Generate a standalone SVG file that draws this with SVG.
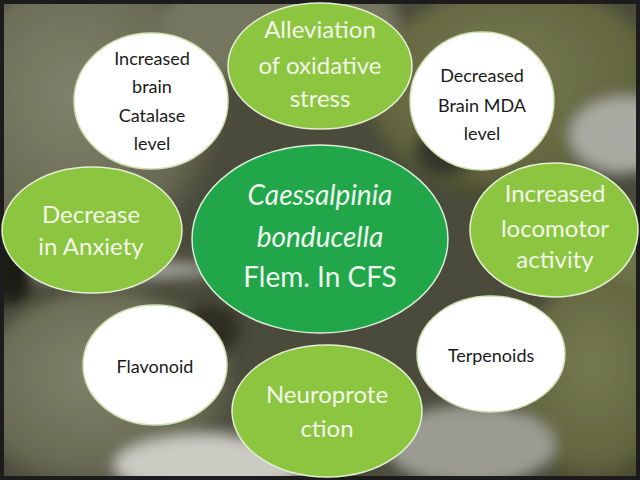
<svg xmlns="http://www.w3.org/2000/svg" width="640" height="480" viewBox="0 0 640 480">
<defs>
<style>
.lg{fill:#8cc540;stroke:#e4efd2;stroke-width:1.5}
.dg{fill:#21a64a;stroke:#d9efd9;stroke-width:1.5}
.wh{fill:#ffffff;stroke:#cfe0b0;stroke-width:1.5}
.tg{font-family:Lato,"Liberation Sans",sans-serif;font-size:24px;fill:#f2f7e8;text-anchor:middle}
.tc{font-family:Lato,"Liberation Sans",sans-serif;font-size:28px;fill:#eef8ee;text-anchor:middle}
.tw{font-family:Lato,"Liberation Sans",sans-serif;font-size:18px;fill:#1a1a1a;text-anchor:middle}
</style>
<filter id="blur" x="-30%" y="-30%" width="160%" height="160%"><feGaussianBlur stdDeviation="7"/></filter>
<radialGradient id="seed" cx="45%" cy="40%" r="60%"><stop offset="0" stop-color="#80826a"/><stop offset="0.75" stop-color="#686a52"/><stop offset="1" stop-color="#45463a"/></radialGradient>
<radialGradient id="seed2" cx="45%" cy="40%" r="60%"><stop offset="0" stop-color="#767a52"/><stop offset="0.75" stop-color="#62653e"/><stop offset="1" stop-color="#42442d"/></radialGradient>
</defs>
<g id="background">
<rect x="0" y="0" width="640" height="480" fill="#4a4b3b"/>
<g filter="url(#blur)">
<ellipse cx="85" cy="125" rx="135" ry="150" fill="url(#seed)"/>
<ellipse cx="280" cy="25" rx="120" ry="60" fill="#74765e"/>
<ellipse cx="520" cy="95" rx="150" ry="110" fill="url(#seed2)"/>
<ellipse cx="625" cy="135" rx="55" ry="38" fill="#a9aaa1"/>
<ellipse cx="610" cy="265" rx="50" ry="60" fill="#6e7248"/>
<ellipse cx="100" cy="270" rx="120" ry="10" fill="#a3a49b"/>
<ellipse cx="105" cy="395" rx="130" ry="105" fill="url(#seed)"/>
<ellipse cx="210" cy="465" rx="95" ry="30" fill="#cbcbc3"/>
<ellipse cx="600" cy="385" rx="80" ry="110" fill="url(#seed2)"/>
<ellipse cx="470" cy="445" rx="85" ry="40" fill="#9b9b91"/>
<ellipse cx="10" cy="270" rx="25" ry="35" fill="#1e1e18"/>
<ellipse cx="210" cy="330" rx="30" ry="25" fill="#2e2e24"/>
<ellipse cx="445" cy="150" rx="30" ry="25" fill="#33342a"/>
</g>
<rect x="2" y="2" width="636" height="476" fill="none" stroke="#1c1c1c" stroke-width="4"/>
</g>
<g id="connectors"/>
<g id="node-catalase">
<ellipse class="wh" cx="151" cy="101" rx="77" ry="68"/>
<text class="tw"><tspan x="152" y="65">Increased</tspan><tspan x="152" y="93">brain</tspan><tspan x="152" y="122">Catalase</tspan><tspan x="152" y="150">level</tspan></text>
</g>
<g id="node-oxidative">
<ellipse class="lg" cx="320" cy="66" rx="92" ry="63"/>
<text class="tg"><tspan x="320" y="38">Alleviation</tspan><tspan x="320" y="74">of oxidative</tspan><tspan x="320" y="107">stress</tspan></text>
</g>
<g id="node-mda">
<ellipse class="wh" cx="482" cy="101" rx="72" ry="69"/>
<text class="tw"><tspan x="482" y="82">Decreased</tspan><tspan x="482" y="112">Brain MDA</tspan><tspan x="482" y="140">level</tspan></text>
</g>
<g id="node-locomotor">
<ellipse class="lg" cx="554" cy="230" rx="84" ry="67"/>
<text class="tg"><tspan x="555" y="202">Increased</tspan><tspan x="555" y="237">locomotor</tspan><tspan x="555" y="268">activity</tspan></text>
</g>
<g id="node-anxiety">
<ellipse class="lg" cx="92" cy="230" rx="90" ry="63"/>
<text class="tg"><tspan x="91" y="223">Decrease</tspan><tspan x="91" y="255">in Anxiety</tspan></text>
</g>
<g id="node-center">
<ellipse class="dg" cx="320" cy="239" rx="128" ry="94"/>
<text class="tc"><tspan x="320" y="205" font-style="italic">Caessalpinia</tspan><tspan x="320" y="247" font-style="italic">bonducella</tspan><tspan x="320" y="287">Flem. In CFS</tspan></text>
</g>
<g id="node-flavonoid">
<ellipse class="wh" cx="155" cy="365" rx="72" ry="60"/>
<text class="tw" x="155" y="373">Flavonoid</text>
</g>
<g id="node-neuroprotection">
<ellipse class="lg" cx="327" cy="411" rx="95" ry="66"/>
<text class="tg"><tspan x="327" y="403">Neuroprote</tspan><tspan x="327" y="437">ction</tspan></text>
</g>
<g id="node-terpenoids">
<ellipse class="wh" cx="491" cy="354" rx="74" ry="58"/>
<text class="tw" x="491" y="362">Terpenoids</text>
</g>
</svg>
